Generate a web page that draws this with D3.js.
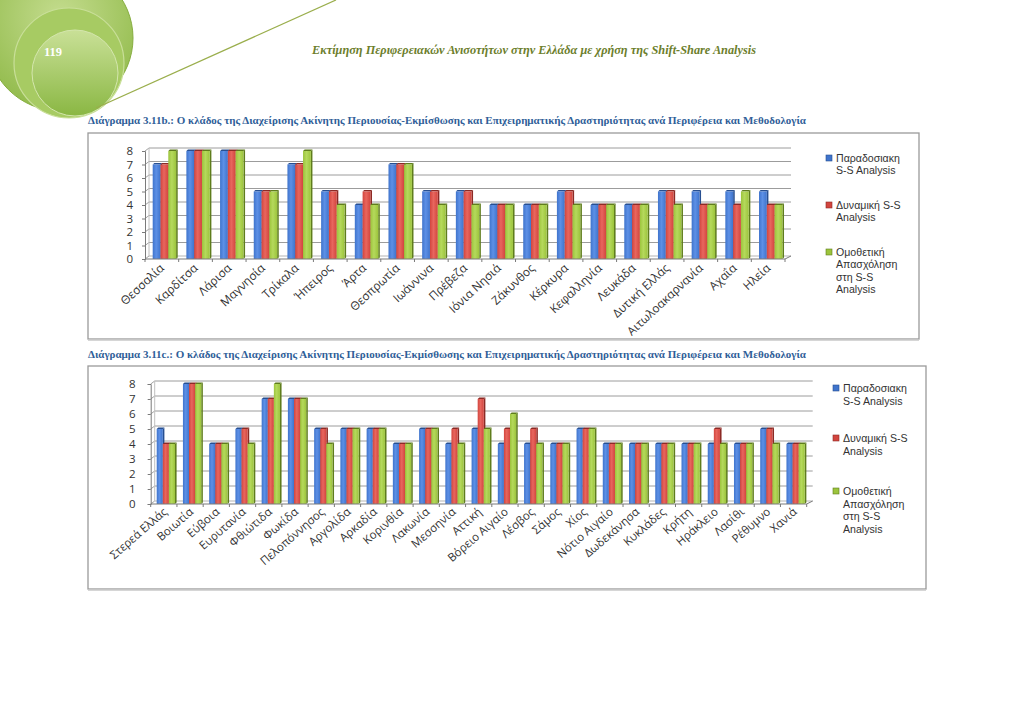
<!DOCTYPE html>
<html><head><meta charset="utf-8">
<script src="https://cdn.jsdelivr.net/npm/d3@7"></script>
<style>body{margin:0;background:#fff}svg{display:block}</style>
</head><body><svg id="c" width="1024" height="725"></svg>
<script>
// ---------- DATA ----------
const categories1 = ["Θεσσαλία","Καρδίτσα","Λάρισα","Μαγνησία","Τρίκαλα","Ήπειρος","Άρτα","Θεσπρωτία","Ιωάννινα","Πρέβεζα","Ιόνια Νησιά","Ζάκυνθος","Κέρκυρα","Κεφαλληνία","Λευκάδα","Δυτική Ελλάς","Αιτωλοακαρνανία","Αχαΐα","Ηλεία"];
const traditional1 = [7,8,8,5,7,5,4,7,5,5,4,4,5,4,4,5,5,5,5];
const dynamic1     = [7,8,8,5,7,5,5,7,5,5,4,4,5,4,4,5,4,4,4];
const homothetic1  = [8,8,8,5,8,4,4,7,4,4,4,4,4,4,4,4,4,5,4];

const categories2 = ["Στερεά Ελλάς","Βοιωτία","Εύβοια","Ευρυτανία","Φθιώτιδα","Φωκίδα","Πελοπόννησος","Αργολίδα","Αρκαδία","Κορινθία","Λακωνία","Μεσσηνία","Αττική","Βόρειο Αιγαίο","Λέσβος","Σάμος","Χίος","Νότιο Αιγαίο","Δωδεκάνησα","Κυκλάδες","Κρήτη","Ηράκλειο","Λασίθι","Ρέθυμνο","Χανιά"];
const traditional2 = [5,8,4,5,7,7,5,5,5,4,5,4,5,4,4,4,5,4,4,4,4,4,4,5,4];
const dynamic2     = [4,8,4,5,7,7,5,5,5,4,5,5,7,5,5,4,5,4,4,4,4,5,4,5,4];
const homothetic2  = [4,8,4,4,8,7,4,5,5,4,5,4,5,6,4,4,5,4,4,4,4,4,4,4,4];

const yTickValues = [0,1,2,3,4,5,6,7,8];
const legendLabels = [["Παραδοσιακη","S-S Analysis"],["Δυναμική S-S","Analysis"],["Ομοθετική","Απασχόληση","στη S-S","Analysis"]];
const headerTitle = "Εκτίμηση Περιφερειακών Ανισοτήτων στην Ελλάδα με χρήση της Shift-Share Analysis";
const caption1 = "Διάγραμμα 3.11b.: Ο κλάδος της Διαχείρισης Ακίνητης Περιουσίας-Εκμίσθωσης και Επιχειρηματικής Δραστηριότητας ανά Περιφέρεια και Μεθοδολογία";
const caption2 = "Διάγραμμα 3.11c.: Ο κλάδος της Διαχείρισης Ακίνητης Περιουσίας-Εκμίσθωσης και Επιχειρηματικής Δραστηριότητας ανά Περιφέρεια και Μεθοδολογία";
const pageNumber = "119";

// ---------- STYLE ----------
const seriesFront = ["#3f74cc","#d2453e","#9cc43c"];
const seriesLight = ["#5d90e6","#e8665e","#b5d95c"];
const seriesSide  = ["#274f91","#8c2a25","#5f7d1d"];

const svg = d3.select("#c");
const defs = svg.append("defs");
seriesFront.forEach((c,i)=>{
  const g = defs.append("linearGradient").attr("id","bar"+i).attr("x1","0").attr("x2","1").attr("y1","0").attr("y2","0");
  g.append("stop").attr("offset","0").attr("stop-color",c);
  g.append("stop").attr("offset","0.45").attr("stop-color",seriesLight[i]);
  g.append("stop").attr("offset","1").attr("stop-color",c);
});
const rg1 = defs.append("radialGradient").attr("id","circOuter").attr("cx","0.5").attr("cy","0.35").attr("r","0.7");
rg1.append("stop").attr("offset","0").attr("stop-color","#c4dc8e");
rg1.append("stop").attr("offset","1").attr("stop-color","#8fb948");
const rg2 = defs.append("linearGradient").attr("id","circInner").attr("x1","0").attr("x2","0").attr("y1","0").attr("y2","1");
rg2.append("stop").attr("offset","0").attr("stop-color","#c9e097");
rg2.append("stop").attr("offset","1").attr("stop-color","#8ab743");

// ---------- HEADER ----------
const hdr = svg.append("g");
hdr.append("circle").attr("cx",60).attr("cy",38).attr("r",73).attr("fill","url(#circOuter)").attr("stroke","#86ad3f").attr("stroke-width",1);
hdr.append("circle").attr("cx",69).attr("cy",63).attr("r",55).attr("fill","#a7cb63").attr("stroke","#c9df99").attr("stroke-width",1.2);
hdr.append("circle").attr("cx",75).attr("cy",73).attr("r",43).attr("fill","url(#circInner)").attr("stroke","#d4e6ad").attr("stroke-width",1);
hdr.append("line").attr("x1",96).attr("y1",108).attr("x2",336).attr("y2",0).attr("stroke","#9aae4c").attr("stroke-width",1.3);
hdr.append("text").attr("x",44).attr("y",56).text(pageNumber)
  .attr("font-family","Liberation Serif").attr("font-weight","bold").attr("font-size",12.5).attr("fill","#ffffff");
hdr.append("text").attr("x",534).attr("y",54).attr("text-anchor","middle").text(headerTitle)
  .attr("font-family","Liberation Serif").attr("font-style","italic").attr("font-weight","bold")
  .attr("font-size",13).attr("fill","#6c7e2c").attr("textLength",444).attr("lengthAdjust","spacingAndGlyphs");

function caption(txt, y){
  svg.append("text").attr("x",88).attr("y",y).text(txt)
    .attr("font-family","Liberation Serif").attr("font-weight","bold").attr("font-size",10.5)
    .attr("fill","#2f5e98").attr("textLength",718).attr("lengthAdjust","spacingAndGlyphs");
}
caption(caption1, 124);
caption(caption2, 358);

// ---------- CHART ----------
function drawChart(cfg, cats, series){
  const g = svg.append("g");
  g.append("rect").attr("x",cfg.box[0]).attr("y",cfg.box[1]).attr("width",cfg.box[2]).attr("height",cfg.box[3])
    .attr("fill","#fff").attr("stroke","#9a9a9a").attr("stroke-width",1.3);
  g.append("line").attr("x1",cfg.box[0]).attr("x2",cfg.box[0]+cfg.box[2]).attr("y1",cfg.box[1]+cfg.box[3]+1).attr("y2",cfg.box[1]+cfg.box[3]+1)
    .attr("stroke","#c8c8c8").attr("stroke-width",1.5);

  const x = d3.scaleBand().domain(cats).range([cfg.x0, cfg.x1]).padding(0);
  const y = d3.scaleLinear().domain([0,8]).range([cfg.y0, cfg.y8]);
  const inner = d3.scaleBand().domain([0,1,2]).range([cfg.gOff, cfg.gOff+cfg.gW]).padding(0);
  const dx = 4, dy = 3;

  const grid = g.append("g");
  yTickValues.forEach(v=>{
    grid.append("line").attr("x1",cfg.x0+dx).attr("x2",cfg.x1+dx+2).attr("y1",y(v)-dy).attr("y2",y(v)-dy)
      .attr("stroke", v===0 ? "#b5b5b5" : "#9c9c9c").attr("stroke-width",1);
    grid.append("line").attr("x1",cfg.x0).attr("x2",cfg.x0+dx).attr("y1",y(v)).attr("y2",y(v)-dy)
      .attr("stroke","#8a8a8a").attr("stroke-width",0.8);
  });
  grid.append("line").attr("x1",cfg.x0+dx).attr("x2",cfg.x0+dx).attr("y1",y(0)-dy).attr("y2",y(8)-dy).attr("stroke","#c0c0c0");

  const ya = g.append("g").attr("transform",`translate(${cfg.x0},0)`)
    .call(d3.axisLeft(y).tickValues(yTickValues).tickSize(3).tickPadding(cfg.tickPad).tickFormat(d3.format("d")));
  ya.select(".domain").attr("stroke","#7a7a7a");
  ya.selectAll(".tick line").attr("stroke","#7a7a7a");
  ya.selectAll("text").attr("font-family","Open Sans").attr("font-size",11.5).attr("fill","#333");

  series.forEach((vals,si)=>{
    const bw = inner.bandwidth();
    const bg = g.append("g");
    cats.forEach((c,ci)=>{
      const v = vals[ci];
      const bx = x(c) + inner(si);
      const by = y(v), b0 = y(0);
      bg.append("polygon")
        .attr("points",`${bx+bw},${by} ${bx+bw+1.6},${by-1.6} ${bx+bw+1.6},${b0-1.6} ${bx+bw},${b0}`)
        .attr("fill",seriesSide[si]);
      bg.append("polygon")
        .attr("points",`${bx},${by} ${bx+1.6},${by-1.6} ${bx+bw+1.6},${by-1.6} ${bx+bw},${by}`)
        .attr("fill",seriesSide[si]);
      bg.append("rect").attr("x",bx).attr("y",by).attr("width",bw).attr("height",b0-by)
        .attr("fill",`url(#bar${si})`);
    });
  });

  const xa = g.append("g");
  xa.append("line").attr("x1",cfg.x0).attr("x2",cfg.x1).attr("y1",y(0)).attr("y2",y(0)).attr("stroke","#7a7a7a");
  xa.append("line").attr("x1",cfg.x1).attr("x2",cfg.x1+dx+2).attr("y1",y(0)).attr("y2",y(0)-dy).attr("stroke","#7a7a7a");
  d3.range(cats.length+1).forEach(i=>{
    const tx = cfg.x0 + i*x.step();
    xa.append("line").attr("x1",tx).attr("x2",tx).attr("y1",y(0)).attr("y2",y(0)+3).attr("stroke","#7a7a7a");
  });
  cats.forEach(c=>{
    const lx = x(c) + x.bandwidth()/2 + cfg.lblDx, ly = y(0) + cfg.lblDy;
    xa.append("text").attr("transform",`translate(${lx},${ly}) rotate(${cfg.rot})`)
      .attr("text-anchor","end").attr("font-family","Open Sans").attr("font-size",cfg.lblFs).attr("fill","#333").text(c);
  });

  const lg = g.append("g");
  legendLabels.forEach((lines,si)=>{
    lg.append("rect").attr("x",cfg.legX).attr("y",cfg.legY[si]-7).attr("width",6).attr("height",6)
      .attr("fill",seriesFront[si]).attr("stroke",seriesSide[si]).attr("stroke-width",0.6);
    lines.forEach((t,li)=>{
      lg.append("text").attr("x",cfg.legX+10).attr("y",cfg.legY[si]+li*cfg.legLH).text(t)
        .attr("font-family","Liberation Sans").attr("font-size",10.6).attr("fill","#333");
    });
  });
}

drawChart({box:[88,133,831,206], x0:145, x1:785, y0:259, y8:151, gOff:7.7, gW:23.4,
  tickPad:9, rot:-43, lblDx:3, lblDy:10, lblFs:11.8, legX:826, legY:[162,209,256], legLH:12.4},
  categories1, [traditional1, dynamic1, homothetic1]);

drawChart({box:[88,366,838,223], x0:150.7, x1:806.7, y0:504, y8:384, gOff:6, gW:18.3,
  tickPad:12, rot:-41, lblDx:4, lblDy:9, lblFs:11.5, legX:833, legY:[392,442,495], legLH:12.6},
  categories2, [traditional2, dynamic2, homothetic2]);
</script></body></html>
